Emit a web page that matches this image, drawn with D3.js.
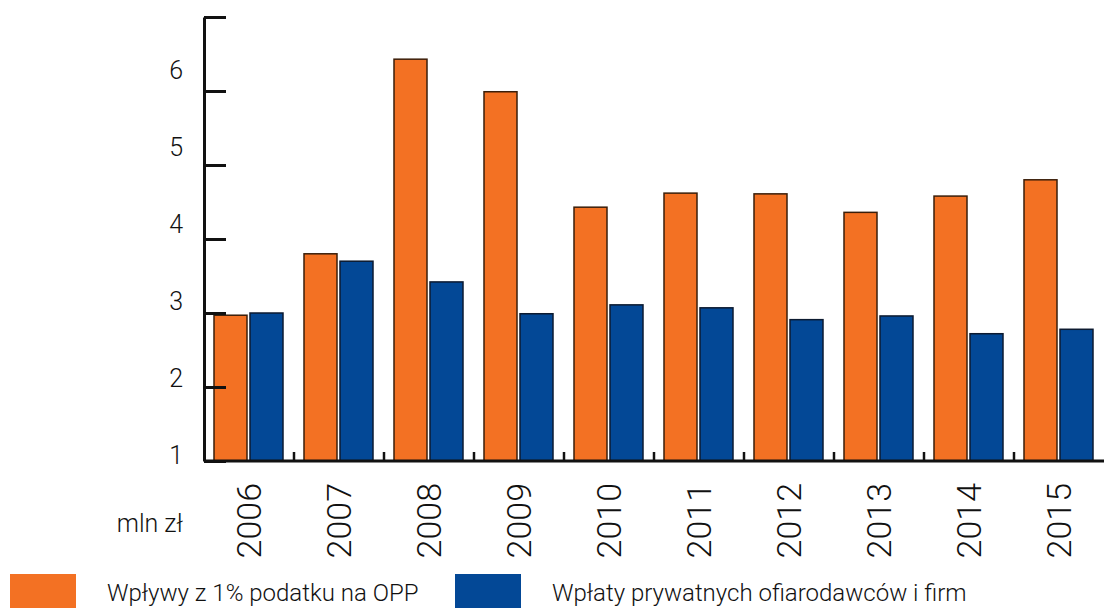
<!DOCTYPE html>
<html>
<head>
<meta charset="utf-8">
<script src="https://cdn.jsdelivr.net/npm/d3@7"></script>
<style>
  body { margin: 0; background: #fff; }
  text { font-family: Roboto, "Noto Sans", sans-serif; font-weight: 300; fill: #111; }
</style>
</head>
<body>
<svg width="1104" height="608"></svg>
<script>
// data (mln zł)
var years = ["2006", "2007", "2008", "2009", "2010", "2011", "2012", "2013", "2014", "2015"];
var tax1pct = [2.97, 3.80, 6.43, 5.99, 4.43, 4.62, 4.61, 4.36, 4.58, 4.80];
var donations = [3.00, 3.70, 3.42, 2.99, 3.11, 3.07, 2.91, 2.96, 2.72, 2.78];
var seriesNames = ["Wpływy z 1% podatku na OPP", "Wpłaty prywatnych ofiarodawców i firm"];
var yTicks = [1, 2, 3, 4, 5, 6, 7];
var yLabels = [1, 2, 3, 4, 5, 6];
var unitLabel = "mln zł";

var colors = ["#f37123", "#034896"];
var strokes = ["#3a1e0a", "#0c1a30"];

var svg = d3.select("svg");

var x0 = d3.scaleBand().domain(years).range([204, 1104]);
var x1 = d3.scaleBand().domain([0, 1]).range([10, 79]).paddingInner(0.0833);
var y = d3.scaleLinear().domain([1, 7]).range([461, 17]);
// the labels in the original sit a little off the tick marks
var yLab = d3.scaleLinear().domain([1, 6]).range([455, 70]);

var rows = years.map(function(yr, i) {
    return { year: yr, values: [tax1pct[i], donations[i]] };
});

// bars
var groups = svg.append("g").selectAll("g")
    .data(rows)
    .enter().append("g")
    .attr("transform", function(d) { return "translate(" + x0(d.year) + ",0)"; });

groups.selectAll("rect")
    .data(function(d) { return d.values.map(function(v, k) { return { k: k, v: v }; }); })
    .enter().append("rect")
    .attr("x", function(d) { return x1(d.k); })
    .attr("width", x1.bandwidth())
    .attr("y", function(d) { return y(d.v); })
    .attr("height", function(d) { return y(1) - y(d.v); })
    .attr("fill", function(d) { return colors[d.k]; })
    .attr("stroke", function(d) { return strokes[d.k]; })
    .attr("stroke-width", 1.5);

// y axis, ticks pointing right
var yAxis = d3.axisRight(y).tickValues(yTicks).tickSize(22).tickSizeOuter(0).tickFormat("");
var gy = svg.append("g").attr("transform", "translate(204,0)").call(yAxis);
gy.select(".domain").attr("stroke", "#111").attr("stroke-width", 3);
gy.selectAll(".tick line").attr("stroke", "#111").attr("stroke-width", 3);

svg.append("g").selectAll("text")
    .data(yLabels)
    .enter().append("text")
    .attr("x", 183)
    .attr("y", function(d) { return yLab(d); })
    .attr("dy", "0.36em")
    .attr("text-anchor", "end")
    .style("font-size", "25px")
    .text(function(d) { return d; });

// x baseline with small ticks between groups
svg.append("line")
    .attr("x1", 204).attr("x2", 1104)
    .attr("y1", y(1)).attr("y2", y(1))
    .attr("stroke", "#111").attr("stroke-width", 3);

svg.append("g").selectAll("line")
    .data(years.slice(0, -1))
    .enter().append("line")
    .attr("x1", function(d) { return x0(d) + x0.step(); })
    .attr("x2", function(d) { return x0(d) + x0.step(); })
    .attr("y1", y(1)).attr("y2", y(1) - 9)
    .attr("stroke", "#111").attr("stroke-width", 2.5);

// year labels, rotated
svg.append("g").selectAll("text")
    .data(years)
    .enter().append("text")
    .attr("transform", function(d) {
        return "translate(" + (x0(d) + x0.bandwidth() / 2) + ",483) rotate(-90)";
    })
    .attr("dy", "0.36em")
    .attr("text-anchor", "end")
    .style("font-size", "34px")
    .text(function(d) { return d; });

svg.append("text")
    .attr("x", 183).attr("y", 532)
    .attr("text-anchor", "end")
    .style("font-size", "25px")
    .text(unitLabel);

// legend
var legendX = [10, 455];
var legend = svg.append("g").selectAll("g")
    .data(seriesNames)
    .enter().append("g")
    .attr("transform", function(d, i) { return "translate(" + legendX[i] + ",574)"; });

legend.append("rect")
    .attr("width", 66).attr("height", 34)
    .attr("fill", function(d, i) { return colors[i]; });

legend.append("text")
    .attr("x", 97).attr("y", 27)
    .style("font-size", "24px")
    .text(function(d) { return d; });
</script>
</body>
</html>
